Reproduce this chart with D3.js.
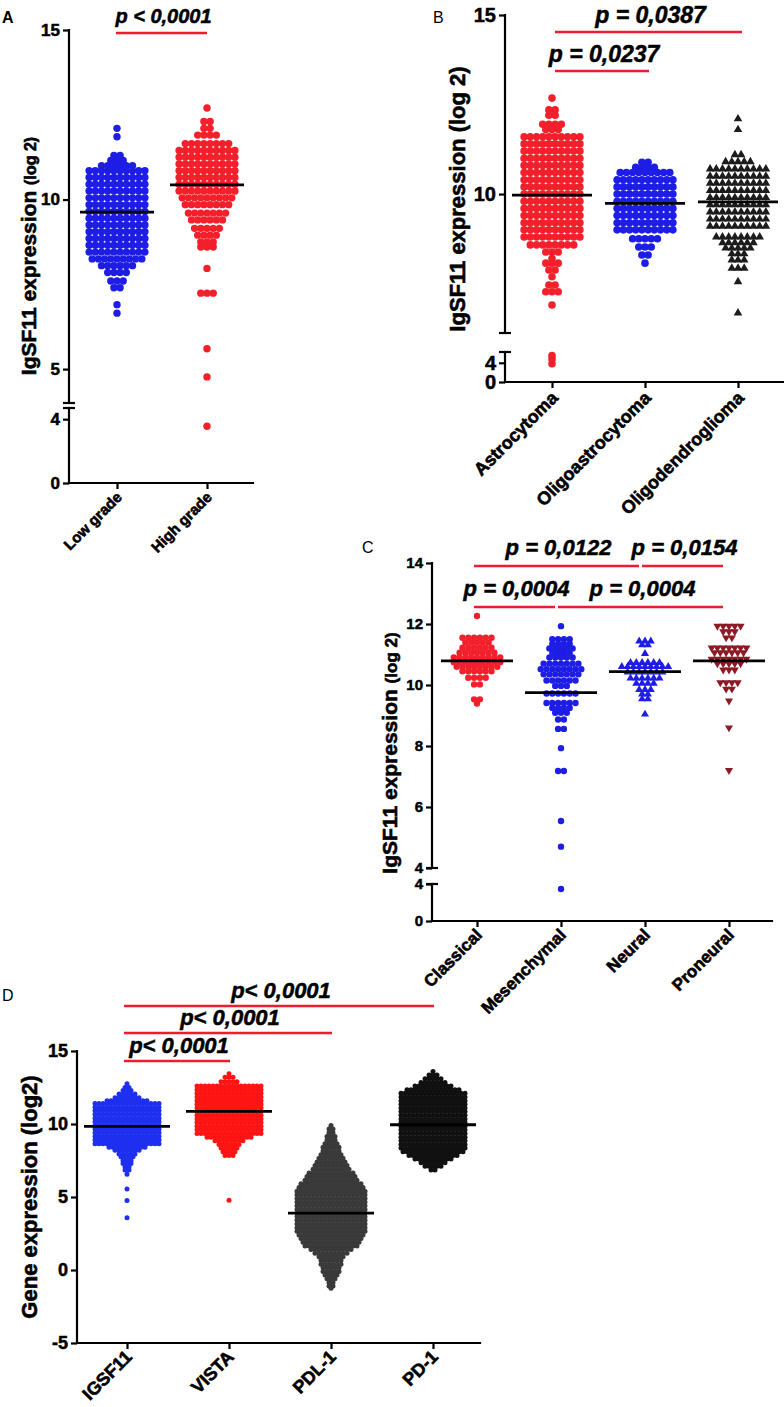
<!DOCTYPE html>
<html><head><meta charset="utf-8">
<script src="https://cdn.jsdelivr.net/npm/d3@7"></script>
<style>body{margin:0;background:#fff}svg{display:block}text{font-family:"Liberation Sans",Arial,sans-serif}</style>
</head><body>
<svg id="chart" width="784" height="1407"></svg>
<script>
// ---------------- DATA ----------------
// Panel A
const catsA = ["Low grade", "High grade"];
const lowGradeRows = [[12.1,1],[11.85,1],[11.3,2],[11.15,3],[11.0,6],[10.85,10],[10.65,10],[10.45,10],[10.25,10],[10.05,10],[9.85,10],[9.65,10],[9.45,10],[9.25,10],[9.05,10],[8.85,10],[8.65,10],[8.45,10],[8.25,9],[8.05,6],[7.85,4],[7.6,3],[7.4,2],[6.9,1],[6.65,1]];
const highGradeRows = [[12.7,1],[12.3,2],[12.1,2],[11.9,4],[11.65,8],[11.45,10],[11.25,10],[11.05,10],[10.85,10],[10.65,10],[10.45,10],[10.25,10],[10.05,9],[9.85,8],[9.6,7],[9.4,6],[9.15,5],[8.95,4],[8.75,3],[8.6,3],[7.97,1],[7.24,3],[5.6,1],[4.77,1],[3.56,1]];
const mediansA = [9.63, 10.43];
const ticksAUpper = [5, 10, 15];
const ticksALower = [0, 4];
const pA = [[0, 1, "p < 0,0001", 0]];

// Panel B
const catsB = ["Astrocytoma", "Oligoastrocytoma", "Oligodendroglioma"];
const astroRows = [[12.68,1],[12.35,2],[12.2,2],[11.95,4],[11.8,3],[11.6,10],[11.4,10],[11.2,10],[11.0,10],[10.8,10],[10.6,10],[10.4,10],[10.2,10],[10.0,10],[9.8,10],[9.6,10],[9.4,10],[9.2,10],[9.0,10],[8.8,10],[8.58,8],[8.38,3],[8.2,1],[8.07,3],[7.88,2],[7.69,1],[7.46,2],[7.27,3],[6.9,1],[5.5,1],[4.8,1],[3.8,1]];
const oligoastroRows = [[10.89,2],[10.75,4],[10.6,9],[10.4,10],[10.2,10],[10.0,10],[9.8,10],[9.6,10],[9.4,10],[9.2,10],[9.0,10],[8.75,5],[8.52,3],[8.3,2],[8.07,1]];
const oligodendroRows = [[12.1,1],[11.8,1],[11.1,2],[10.9,5],[10.7,10],[10.5,10],[10.3,10],[10.1,10],[9.9,10],[9.7,10],[9.5,10],[9.3,10],[9.1,10],[8.8,8],[8.64,6],[8.49,5],[8.33,3],[8.16,3],[7.93,3],[7.55,1],[6.68,1]];
const mediansB = [9.97, 9.74, 9.78];
const ticksBUpper = [10, 15];
const ticksBLower = [0, 4];
const pB = [[0, 1, "p = 0,0237", 0], [0, 2, "p = 0,0387", 1]];

// Panel C
const catsC = ["Classical", "Mesenchymal", "Neural", "Proneural"];
const classicalRows = [[12.26,1],[11.55,6],[11.39,5],[11.22,6],[11.06,7],[10.9,9],[10.75,9],[10.6,8],[10.45,6],[10.24,4],[10.02,2],[9.53,2],[9.39,1]];
const mesenchymalRows = [[11.93,1],[11.5,4],[11.35,4],[11.2,5],[11.05,4],[10.9,5],[10.7,7],[10.52,8],[10.35,7],[10.15,6],[9.97,3],[9.72,6],[9.41,6],[9.25,4],[9.09,3],[8.87,2],[8.56,2],[7.93,1],[7.18,2],[5.54,1],[4.7,1],[3.46,1]];
const neuralRows = [[11.44,3],[11.31,2],[11.03,1],[10.73,6],[10.6,9],[10.42,7],[10.22,6],[10.05,4],[9.85,3],[9.7,2],[9.54,2],[9.04,1]];
const proneuralRows = [[11.93,5],[11.75,3],[11.55,2],[11.22,7],[11.06,6],[10.85,7],[10.7,5],[10.5,3],[10.08,4],[9.87,2],[9.48,1],[8.6,1],[7.2,1]];
const mediansC = [10.79, 9.75, 10.44, 10.79];
const ticksCUpper = [4, 6, 8, 10, 12, 14];
const ticksCLower = [0, 4];
const pC = [[0, 1, "p = 0,0004", 0], [1, 3, "p = 0,0004", 0], [0, 2, "p = 0,0122", 1], [2, 3, "p = 0,0154", 1]];

// Panel D
const catsD = ["IGSF11", "VISTA", "PDL-1", "PD-1"];
const igsf11Rows = [[12.75,1],[12.5,2],[12.3,3],[12.05,5],[11.8,7],[11.6,11],[11.4,17],[11.15,17],[10.9,17],[10.65,17],[10.4,17],[10.15,17],[9.9,17],[9.65,17],[9.4,17],[9.15,17],[8.9,17],[8.65,17],[8.4,10],[8.2,7],[7.95,5],[7.75,4],[7.5,3],[7.3,3],[7.05,2],[6.85,2],[6.55,1],[5.55,1],[4.76,1],[3.58,1]];
const vistaRows = [[13.45,1],[13.2,3],[12.9,5],[12.6,17],[12.35,17],[12.1,17],[11.85,17],[11.6,17],[11.35,17],[11.1,17],[10.85,17],[10.6,17],[10.35,17],[10.1,17],[9.85,17],[9.6,17],[9.35,17],[9.1,12],[8.85,8],[8.6,6],[8.35,5],[8.1,4],[7.85,3],[4.77,1]];
const pdl1Rows = [[9.9,1],[9.65,2],[9.4,2],[9.15,3],[8.9,3],[8.65,4],[8.4,5],[8.15,5],[7.9,6],[7.65,7],[7.4,8],[7.15,9],[6.9,10],[6.65,12],[6.4,13],[6.15,14],[5.9,16],[5.65,17],[5.4,18],[5.15,18],[4.9,18],[4.65,18],[4.4,18],[4.15,18],[3.9,18],[3.65,18],[3.4,18],[3.15,18],[2.9,18],[2.65,18],[2.4,17],[2.15,16],[1.9,15],[1.65,14],[1.4,11],[1.15,9],[0.9,7],[0.65,6],[0.4,6],[0.15,5],[-0.1,5],[-0.35,4],[-0.6,3],[-0.85,2],[-1.1,2],[-1.25,1]];
const pd1Rows = [[13.6,1],[13.35,3],[13.1,5],[12.85,7],[12.6,10],[12.35,14],[12.1,17],[11.85,17],[11.6,17],[11.35,17],[11.1,17],[10.85,17],[10.6,17],[10.35,17],[10.1,17],[9.85,17],[9.6,17],[9.35,17],[9.1,17],[8.85,17],[8.6,17],[8.35,17],[8.1,16],[7.85,13],[7.6,10],[7.35,7],[7.1,5],[6.85,2]];
const mediansD = [9.84, 10.87, 3.9, 9.95];
const ticksD = [-5, 0, 5, 10, 15];
const pD = [[0, 1, "p< 0,0001", 0], [0, 2, "p< 0,0001", 1], [0, 3, "p< 0,0001", 2]];

// ---------------- DRAWING ----------------
const svg = d3.select("#chart");
const BLUE = "#1d1de6", RED = "#f3202c", DARK = "#1c1c1c", MAROON = "#8c1a24";
const FONT = '"Liberation Sans", Arial, sans-serif';

function heavy(sel, w) {
  return sel.style("font-family", FONT).style("font-weight", "bold")
    .attr("stroke", "#000").attr("stroke-width", w).attr("fill", "#000");
}

function drawPanel(cfg) {
  const g = svg.append("g");
  const x = d3.scalePoint().domain(cfg.cats).range(cfg.xRange);
  const segs = cfg.segs.map(s => Object.assign({}, s, {scale: d3.scaleLinear().domain(s.domain).range(s.range)}));
  const y = v => { for (const s of segs) if (v >= s.domain[0]) return s.scale(v); return segs[segs.length - 1].scale(v); };
  const baseY = segs[segs.length - 1].range[0];

  segs.forEach((s, i) => {
    g.append("line").attr("x1", cfg.axisX).attr("x2", cfg.axisX)
      .attr("y1", s.range[0]).attr("y2", s.range[1])
      .attr("stroke", "#000").attr("stroke-width", 2.2).attr("stroke-linecap", "square");
    const ax = d3.axisLeft(s.scale).tickValues(s.ticks).tickSize(6).tickPadding(3).tickFormat(d => String(d));
    const ag = g.append("g").attr("transform", `translate(${cfg.axisX},0)`).call(ax);
    ag.select(".domain").remove();
    ag.selectAll("line").attr("stroke", "#000").attr("stroke-width", 2.2);
    heavy(ag.selectAll("text"), 0.5).style("font-size", cfg.tickFont + "px");
    if (segs.length > 1) {
      const endY = i === 0 ? s.range[0] : s.range[1];
      g.append("line").attr("x1", cfg.axisX - 6).attr("x2", cfg.axisX + 6)
        .attr("y1", endY).attr("y2", endY).attr("stroke", "#000").attr("stroke-width", 2.2);
    }
  });

  g.append("line").attr("x1", cfg.axisX).attr("x2", cfg.xEnd).attr("y1", baseY).attr("y2", baseY)
    .attr("stroke", "#000").attr("stroke-width", 2.2).attr("stroke-linecap", "square");
  const xa = d3.axisBottom(x).tickSize(6).tickFormat("");
  const xg = g.append("g").attr("transform", `translate(0,${baseY})`).call(xa);
  xg.select(".domain").remove();
  xg.selectAll("line").attr("stroke", "#000").attr("stroke-width", 2.2);
  heavy(g.selectAll(".xlab").data(cfg.cats).enter().append("text"), 0.6)
    .attr("transform", d => `translate(${x(d) + cfg.labDx},${baseY + cfg.labDy}) rotate(-45)`)
    .attr("text-anchor", "end").style("font-size", cfg.labFont + "px").text(d => d);

  cfg.series.forEach((rows, gi) => {
    const cx = x(cfg.cats[gi]);
    const pts = [];
    rows.forEach(([v, n]) => { for (let k = 0; k < n; k++) pts.push({x: cx + (k - (n - 1) / 2) * cfg.spacing, y: y(v)}); });
    const shape = cfg.shapes[gi], col = cfg.colors[gi];
    if (shape === "circle") {
      g.append("g").selectAll("circle").data(pts).enter().append("circle")
        .attr("cx", d => d.x).attr("cy", d => d.y).attr("r", cfg.r).attr("fill", col);
    } else {
      const sym = d3.symbol().type(d3.symbolTriangle).size(cfg.triSize);
      g.append("g").selectAll("path").data(pts).enter().append("path")
        .attr("d", sym).attr("fill", col)
        .attr("transform", d => `translate(${d.x},${d.y})` + (shape === "down" ? " rotate(180)" : ""));
    }
  });

  cfg.medians.forEach((m, gi) => {
    const cx = x(cfg.cats[gi]);
    g.append("line").attr("x1", cx - cfg.medHalf).attr("x2", cx + cfg.medHalf)
      .attr("y1", y(m)).attr("y2", y(m)).attr("stroke", "#000").attr("stroke-width", 2.8);
  });

  cfg.pvals.forEach(([a, b, txt, lvl]) => {
    const x1 = x(cfg.cats[a]) + cfg.pOff[0], x2 = x(cfg.cats[b]) + cfg.pOff[1];
    const ly = cfg.pLevels[lvl];
    g.append("line").attr("x1", x1).attr("x2", x2).attr("y1", ly).attr("y2", ly)
      .attr("stroke", "#ee1c2e").attr("stroke-width", 2.5);
    heavy(g.append("text"), 0.5).attr("x", (x1 + x2) / 2 + 2).attr("y", ly - cfg.pGap).attr("text-anchor", "middle")
      .style("font-style", "italic").style("font-size", cfg.pFont + "px").text(txt);
  });

  const yl = heavy(g.append("text"), 0.6).attr("transform", `translate(${cfg.yLab[0]},${cfg.yLab[1]}) rotate(-90)`)
    .attr("text-anchor", "middle");
  cfg.yLabParts.forEach(([t, fs]) => yl.append("tspan").style("font-size", fs + "px").text(t));

  svg.append("text").attr("x", cfg.letter[1]).attr("y", cfg.letter[2]).text(cfg.letter[0])
    .style("font-family", FONT).style("font-size", "16px").style("font-weight", cfg.letter[3] ? "bold" : "normal");
}

drawPanel({
  cats: catsA, xRange: [117, 207], axisX: 69, xEnd: 253,
  segs: [{domain: [4, 15], range: [403, 30], ticks: ticksAUpper}, {domain: [0, 4.7], range: [483, 408], ticks: ticksALower}],
  tickFont: 17, labFont: 15, labDx: 6, labDy: 15,
  series: [lowGradeRows, highGradeRows], shapes: ["circle", "circle"], colors: [BLUE, RED],
  r: 3.7, spacing: 6.2, triSize: 26, medians: mediansA, medHalf: 37,
  pvals: pA, pLevels: [33], pOff: [-1, 0], pGap: 10, pFont: 20,
  yLab: [36, 256], yLabParts: [["IgSF11 expression ", 21], ["(log 2)", 16]],
  letter: ["A", 2, 23, true]
});

drawPanel({
  cats: catsB, xRange: [552, 738], axisX: 505, xEnd: 784,
  segs: [{domain: [6.12, 15], range: [333, 15], ticks: ticksBUpper}, {domain: [0, 6.25], range: [382, 352], ticks: ticksBLower}],
  tickFont: 20, labFont: 18, labDx: 7, labDy: 17,
  series: [astroRows, oligoastroRows, oligodendroRows], shapes: ["circle", "circle", "up"], colors: [RED, BLUE, DARK],
  r: 3.8, spacing: 6.2, triSize: 32, medians: mediansB, medHalf: 40,
  pvals: pB, pLevels: [71, 32], pOff: [3, 4], pGap: 9, pFont: 23,
  yLab: [465, 199], yLabParts: [["IgSF11 expression (log 2)", 22]],
  letter: ["B", 433, 23, false]
});

drawPanel({
  cats: catsC, xRange: [477, 729], axisX: 432, xEnd: 772,
  segs: [{domain: [4, 14], range: [868, 563], ticks: ticksCUpper}, {domain: [0, 4], range: [921, 884], ticks: ticksCLower}],
  tickFont: 15, labFont: 17, labDx: 6, labDy: 15,
  series: [classicalRows, mesenchymalRows, neuralRows, proneuralRows], shapes: ["circle", "circle", "up", "down"],
  colors: [RED, BLUE, BLUE, MAROON],
  r: 3.2, spacing: 5.8, triSize: 28, medians: mediansC, medHalf: 36,
  pvals: pC, pLevels: [607, 566], pOff: [-3, -6], pGap: 11, pFont: 22,
  yLab: [397, 753], yLabParts: [["IgSF11 expression ", 21], ["(log 2)", 17]],
  letter: ["C", 362, 553, false]
});

drawPanel({
  cats: catsD, xRange: [127, 433], axisX: 77, xEnd: 480,
  segs: [{domain: [-5, 15], range: [1343, 1051], ticks: ticksD}],
  tickFont: 18, labFont: 18, labDx: 6, labDy: 15,
  series: [igsf11Rows, vistaRows, pdl1Rows, pd1Rows], shapes: ["circle", "circle", "circle", "circle"],
  colors: ["#1f2ff0", "#ff1414", "#3a3a3a", "#111111"],
  r: 2.5, spacing: 4, triSize: 20, medians: mediansD, medHalf: 43,
  pvals: pD, pLevels: [1061, 1033, 1006], pOff: [-3, 1], pGap: 8, pFont: 22,
  yLab: [37, 1197], yLabParts: [["Gene expression (log2)", 22]],
  letter: ["D", 2, 1001, false]
});
</script>
</body></html>
